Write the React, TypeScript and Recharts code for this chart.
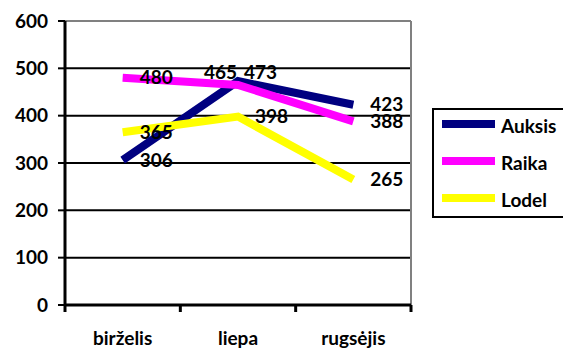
import {
  LineChart,
  Line,
  XAxis,
  YAxis,
  CartesianGrid,
  ReferenceLine,
  Legend,
  LabelList,
} from "recharts";

const months = ["birželis", "liepa", "rugsėjis"];
const auksis = [306, 473, 423];
const raika = [480, 465, 388];
const lodel = [365, 398, 265];
const yTicks = [0, 100, 200, 300, 400, 500, 600];

const series = [
  { name: "Auksis", values: auksis, color: "#000080" },
  { name: "Raika", values: raika, color: "#FF00FF" },
  { name: "Lodel", values: lodel, color: "#FFFF00" },
];

// each month sits in the middle of its slot [i, i + 1]
const data = months.map((m, i) => ({
  pos: i + 0.5,
  month: m,
  Auksis: auksis[i],
  Raika: raika[i],
  Lodel: lodel[i],
}));
const xTicks = [0, 0.5, 1, 1.5, 2, 2.5, 3];

const font = {
  fontFamily: "Lato, 'Liberation Sans', sans-serif",
  fontWeight: 700,
  fontSize: 19,
  fill: "#000",
};

// slot borders get a tick mark, slot middles get the month name
function MonthTick(props: any) {
  const { x, y, payload } = props;
  const v = payload.value as number;
  if (Number.isInteger(v)) {
    return <line x1={x} y1={y} x2={x} y2={y + 7} stroke="#000" strokeWidth={3} />;
  }
  return (
    <text x={x} y={y + 40} textAnchor="middle" style={font}>
      {months[Math.floor(v)]}
    </text>
  );
}

function makeLabel(name: string) {
  return (props: any) => {
    const { x, y, value, index } = props;
    let dx = 17;
    let dy = 0;
    let anchor: "start" | "end" = "start";
    // the two July values sit on top of each other, lift them above the peak
    if (index === 1 && name === "Raika") {
      dx = -1;
      dy = -13;
      anchor = "end";
    }
    if (index === 1 && name === "Auksis") {
      dx = 6;
      dy = -9;
    }
    return (
      <text x={x + dx} y={y + dy} dy="0.35em" textAnchor={anchor} style={font}>
        {value}
      </text>
    );
  };
}

// legend keeps the series order (recharts would sort it by name)
function LegendBox() {
  return (
    <div
      style={{
        position: "relative",
        width: 131,
        height: 110,
        boxSizing: "border-box",
        border: "2px solid #000",
        borderRight: "none",
        background: "#fff",
      }}
    >
      {series.map((s, i) => (
        <div key={s.name}>
          <div
            style={{
              position: "absolute",
              left: 8,
              top: 10 + i * 37,
              width: 53,
              height: 8,
              background: s.color,
            }}
          />
          <div
            style={{
              position: "absolute",
              left: 67,
              top: 6 + i * 37,
              lineHeight: "19px",
              fontFamily: font.fontFamily,
              fontWeight: 700,
              fontSize: 19,
              color: "#000",
              whiteSpace: "nowrap",
            }}
          >
            {s.name}
          </div>
        </div>
      ))}
    </div>
  );
}

export default function App() {
  return (
    <div
      style={{
        position: "absolute",
        left: 0,
        top: 0,
        width: 563,
        height: 349,
        overflow: "hidden",
        background: "#fff",
      }}
    >
      <LineChart
        width={563}
        height={349}
        data={data}
        margin={{ top: 21, right: 152, bottom: 0, left: 0 }}
      >
        <CartesianGrid vertical={false} stroke="#000" strokeWidth={2} />
        <XAxis
          dataKey="pos"
          type="number"
          domain={[0, 3]}
          ticks={xTicks}
          interval={0}
          height={44}
          tickSize={0}
          tickMargin={0}
          tickLine={false}
          axisLine={{ stroke: "#000", strokeWidth: 3 }}
          tick={MonthTick}
        />
        <YAxis
          type="number"
          domain={[0, 600]}
          ticks={yTicks}
          interval={0}
          width={65}
          tickSize={7}
          tickMargin={10}
          tickLine={{ stroke: "#000", strokeWidth: 2 }}
          axisLine={{ stroke: "#000", strokeWidth: 3 }}
          tick={font}
        />
        <ReferenceLine y={600} stroke="#808080" strokeWidth={2} />
        <ReferenceLine x={3} stroke="#808080" strokeWidth={2} />
        {series.map((s) => (
          <Line
            key={s.name}
            dataKey={s.name}
            name={s.name}
            type="linear"
            stroke={s.color}
            strokeWidth={8}
            dot={false}
            activeDot={false}
            isAnimationActive={false}
          >
            <LabelList dataKey={s.name} content={makeLabel(s.name)} />
          </Line>
        ))}
        <Legend
          layout="horizontal"
          align="center"
          verticalAlign="middle"
          wrapperStyle={{ left: 432, top: 108, width: 131, height: 110 }}
          content={LegendBox}
        />
      </LineChart>
    </div>
  );
}
